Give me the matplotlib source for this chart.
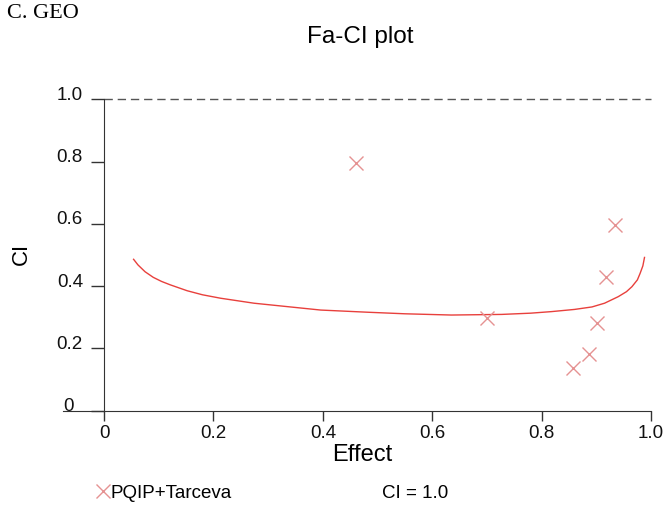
import matplotlib.pyplot as plt
from matplotlib.lines import Line2D
from matplotlib.transforms import ScaledTranslation

# measured combination points (Fa, CI)
effect_pts = [0.46, 0.70, 0.857, 0.887, 0.902, 0.917, 0.934]
ci_pts = [0.795, 0.296, 0.136, 0.181, 0.283, 0.429, 0.596]

# simulated Fa-CI curve
curve_fa = [0.054, 0.062, 0.075, 0.09, 0.105, 0.121, 0.152, 0.18, 0.213, 0.274,
            0.335, 0.396, 0.482, 0.55, 0.635, 0.727, 0.78, 0.818, 0.86, 0.892,
            0.915, 0.94, 0.955, 0.965, 0.975, 0.98, 0.985, 0.988]
curve_ci = [0.486, 0.468, 0.446, 0.428, 0.415, 0.404, 0.385, 0.372, 0.361, 0.345,
            0.334, 0.323, 0.316, 0.311, 0.307, 0.309, 0.313, 0.318, 0.325, 0.333,
            0.345, 0.366, 0.382, 0.398, 0.42, 0.441, 0.465, 0.492]

x_ticks = [0, 0.2, 0.4, 0.6, 0.8, 1.0]
x_labels = ['0', '0.2', '0.4', '0.6', '0.8', '1.0']
y_ticks = [0, 0.2, 0.4, 0.6, 0.8, 1.0]
y_labels = ['0', '0.2', '0.4', '0.6', '0.8', '1.0']

plt.rcParams['font.family'] = ['Liberation Sans', 'DejaVu Sans']

dpi = 100
fig = plt.figure(figsize=(6.69, 5.12), dpi=dpi)
ax = fig.add_axes([0.0942, 0.198, 0.879, 0.6203])
ax.set_xlim(-0.075, 1.0)
ax.set_ylim(0, 1.02)

axis_col = '#333333'
for side in ['top', 'right']:
    ax.spines[side].set_visible(False)
ax.spines['left'].set_position(('data', 0))
ax.spines['left'].set_bounds(0, 1.0)
ax.spines['left'].set_color(axis_col)
ax.spines['bottom'].set_color(axis_col)

ax.set_xticks(x_ticks)
ax.set_xticklabels(x_labels)
ax.set_yticks(y_ticks)
ax.set_yticklabels(y_labels)
ax.tick_params(axis='x', direction='out', length=7, width=1, pad=3.5,
               labelsize=13.5, colors=axis_col, labelcolor='#111111')
ax.tick_params(axis='y', direction='out', length=9.4, width=1, pad=5.8,
               labelsize=13.5, colors=axis_col, labelcolor='#111111')

# y labels sit a little above their ticks
for i, lab in enumerate(ax.get_yticklabels()):
    dx = -9 / dpi if i == 0 else 0
    lab.set_transform(lab.get_transform() + ScaledTranslation(dx, 6 / dpi, fig.dpi_scale_trans))

# CI = 1 reference line
ax.plot([0, 1.0], [1.0, 1.0], color='#555555', linewidth=1, dashes=(6, 3.5), clip_on=False)

ax.plot(curve_fa, curve_ci, color='#E8403C', linewidth=1)
ax.plot(effect_pts, ci_pts, linestyle='none', marker='x', markersize=10,
        markeredgewidth=1, color='#E59292')

fig.text(360 / 669, 1 - 37 / 512, 'Fa-CI plot', ha='center', va='center', fontsize=17.5)
fig.text(7 / 669, 1 - 14 / 512, 'C. GEO', ha='left', va='center', fontsize=16,
         family='Liberation Serif')
fig.text(21 / 669, 1 - 254 / 512, 'CI', ha='center', va='center', fontsize=16, rotation=90)
fig.text(362 / 669, 1 - 455 / 512, 'Effect', ha='center', va='center', fontsize=17)

handles = [Line2D([], [], linestyle='none', marker='x', markersize=10,
                  markeredgewidth=1, color='#E59292'),
           Line2D([], [], linestyle='none')]
leg = fig.legend(handles, ['PQIP+Tarceva', 'CI = 1.0'], ncol=2, frameon=False,
                 fontsize=13.5, handlelength=0.6, handletextpad=0.1,
                 columnspacing=7.35, loc='center left',
                 bbox_to_anchor=(97 / 669, 1 - 493 / 512), borderaxespad=0,
                 borderpad=0)

fig.savefig('out.png', dpi=dpi)
